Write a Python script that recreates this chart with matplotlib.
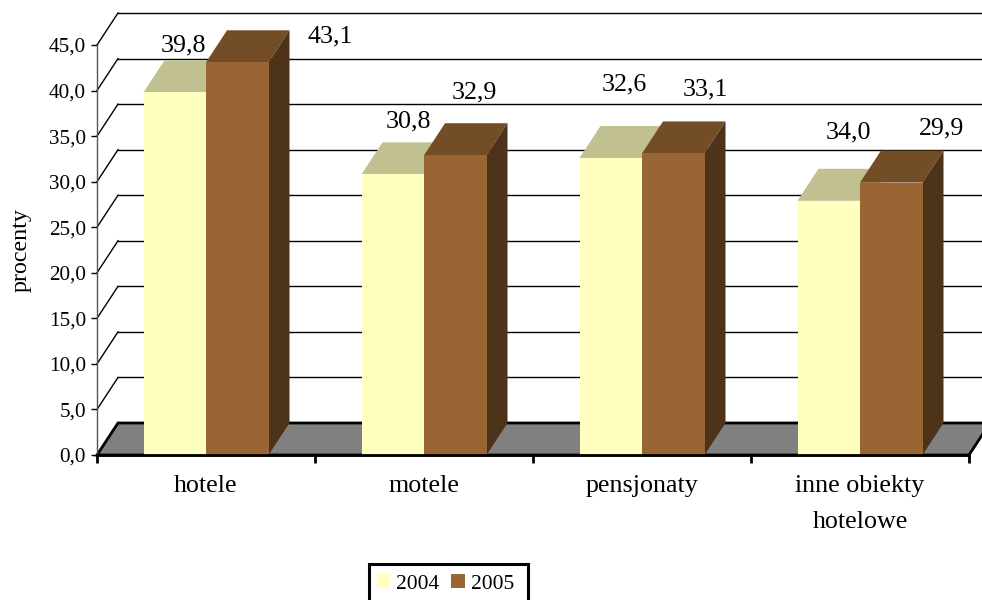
"""Bar chart with fake 3D depth: procenty by type of hotel facility, 2004 and 2005."""
import matplotlib
matplotlib.use("Agg")
import matplotlib.pyplot as plt
from matplotlib.patches import Patch, Rectangle

plt.rcParams["font.family"] = ["Liberation Serif", "DejaVu Serif"]

categories = ["hotele", "motele", "pensjonaty", "inne obiekty\nhotelowe"]
years = ["2004", "2005"]
values_2004 = [39.8, 30.8, 32.6, 27.9]
values_2005 = [43.1, 32.9, 33.1, 29.9]
# the last 2004 label is printed as 34,0 although the bar is drawn lower
labels_2004 = ["39,8", "30,8", "32,6", "34,0"]
labels_2005 = ["43,1", "32,9", "33,1", "29,9"]
y_ticks = [0, 5, 10, 15, 20, 25, 30, 35, 40, 45]
y_tick_labels = ["0,0", "5,0", "10,0", "15,0", "20,0", "25,0", "30,0", "35,0", "40,0", "45,0"]

# label centres in pixels, relative to the front top centre of each bar
offset_2004 = [(9, 47), (16, 53), (14, 74), (20, 68)]
offset_2005 = [(93, 26), (19, 63), (32, 64), (50, 54)]

FRONT = ["#FFFFC0", "#996633"]
TOP = ["#C0C090", "#734D26"]
SIDE = ["#C0C090", "#4D3319"]
FLOOR = "#808080"

W, H = 982, 600
LEFT, RIGHT, BOTTOM, TOP_PX = 97, 969, 455, 45
DX = 21 / 218  # depth, in category units
DY = 32 / ((BOTTOM - TOP_PX) / 45)  # depth, in value units
BAR_W = 62.5 / 218

fig = plt.figure(figsize=(W / 100, H / 100), dpi=100)
ax = fig.add_axes([LEFT / W, 1 - BOTTOM / H, (RIGHT - LEFT) / W, (BOTTOM - TOP_PX) / H])
ax.set_xlim(0, len(categories))
ax.set_ylim(0, 45)
ax.patch.set_visible(False)

# floor
ax.fill([0, len(categories), len(categories) + DX, DX], [0, 0, DY, DY],
        facecolor=FLOOR, edgecolor="black", linewidth=2, clip_on=False, zorder=1)

# back wall grid and left wall diagonals
for t in y_ticks:
    if t > 0:
        ax.plot([DX, len(categories) + DX], [t + DY, t + DY], color="black",
                linewidth=1, clip_on=False, zorder=1)
        ax.plot([0, DX], [t, t + DY], color="black", linewidth=1, clip_on=False, zorder=1)

# bars
for i in range(len(categories)):
    for k, vals in enumerate([values_2004, values_2005]):
        x0 = i + 0.5 - BAR_W + k * BAR_W
        x1 = x0 + BAR_W
        v = vals[i]
        ax.fill([x0, x1, x1 + DX, x0 + DX], [v, v, v + DY, v + DY],
                facecolor=TOP[k], edgecolor="none", clip_on=False, zorder=3 + k)
        ax.fill([x1, x1 + DX, x1 + DX, x1], [0, DY, v + DY, v],
                facecolor=SIDE[k], edgecolor="none", clip_on=False, zorder=3 + k)
        ax.bar(x0, v, width=BAR_W, align="edge", color=FRONT[k], clip_on=False, zorder=3 + k)

# value labels
for i in range(len(categories)):
    for k, (vals, labs, offs) in enumerate([(values_2004, labels_2004, offset_2004),
                                            (values_2005, labels_2005, offset_2005)]):
        x = i + 0.5 - BAR_W + (k + 0.5) * BAR_W
        ax.annotate(labs[i], (x, vals[i]),
                    xytext=(offs[i][0] * 0.72, offs[i][1] * 0.72), textcoords="offset points",
                    ha="center", va="center", fontsize=18.7, color="black",
                    annotation_clip=False, zorder=6)

for side in ["top", "right"]:
    ax.spines[side].set_visible(False)
ax.spines["left"].set_color("#555555")
ax.spines["left"].set_linewidth(1)
ax.spines["left"].set_zorder(2)
ax.spines["bottom"].set_linewidth(2)
ax.spines["bottom"].set_zorder(7)

ax.set_yticks(y_ticks)
ax.set_yticklabels(y_tick_labels, fontsize=15.2)
ax.tick_params(axis="y", length=4.5, width=1, pad=3.5)
ax.set_xticks(range(len(categories) + 1))
ax.set_xticklabels([])
ax.tick_params(axis="x", which="major", length=6, width=2)
ax.set_xticks([i + 0.5 for i in range(len(categories))], minor=True)
ax.set_xticklabels(categories, minor=True, fontsize=18.7, linespacing=1.78)
ax.tick_params(axis="x", which="minor", length=0, pad=14.7)

ax.set_ylabel("procenty", fontsize=17.3)
ax.yaxis.set_label_coords((32 - LEFT) / (RIGHT - LEFT), (BOTTOM - 250) / (BOTTOM - TOP_PX))

# legend box runs off the bottom of the picture, so it is drawn apart from the entries
fig.add_artist(Rectangle((369 / W, -10 / H), 159 / W, (H + 10 - 564) / H, transform=fig.transFigure,
                         facecolor="white", edgecolor="black", linewidth=2.2))
handles = [Patch(facecolor=FRONT[0], linewidth=0, label=years[0]),
           Patch(facecolor=FRONT[1], linewidth=0, label=years[1])]
fig.legend(handles=handles, ncol=2, loc="upper left",
           bbox_to_anchor=(376.5 / W, 1 - 574 / H), borderaxespad=0, borderpad=0,
           fontsize=15.5, frameon=False, handlelength=0.65, handleheight=0.65,
           handletextpad=0.25, columnspacing=0.56)

fig.savefig("out.png", dpi=100)
